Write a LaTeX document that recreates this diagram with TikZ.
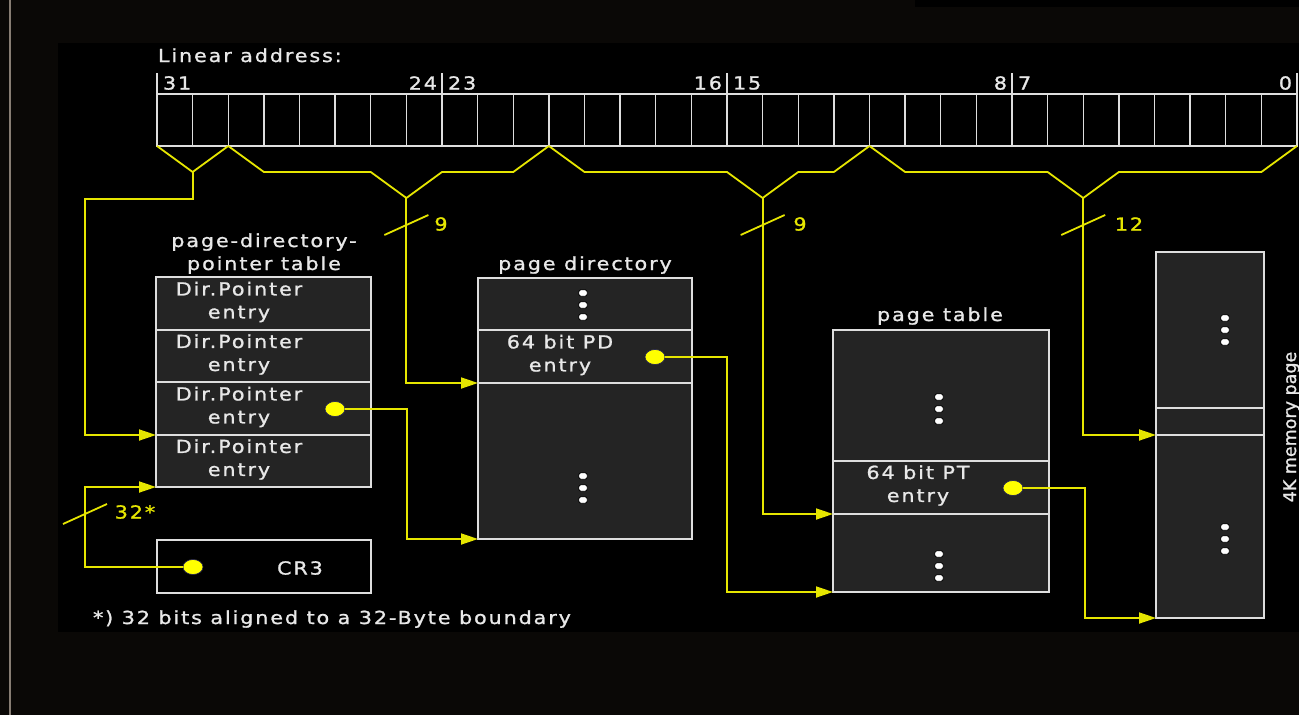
\documentclass[tikz,border=0pt]{standalone}
\usepackage{fontspec}
\setmainfont{DejaVu Sans}[FakeStretch=1.15,LetterSpace=10.5,FakeBold=1.2]
\newfontfamily\plainfont{DejaVu Sans}[FakeBold=1.2]
\usetikzlibrary{arrows.meta,shapes.geometric}

\definecolor{bgout}{RGB}{10,8,6}
\definecolor{ylw}{RGB}{230,230,0}
\definecolor{dotyl}{RGB}{255,255,0}
\definecolor{dotedge}{RGB}{30,30,90}
\definecolor{boxfill}{RGB}{36,36,36}
\definecolor{boxline}{RGB}{222,222,222}
\definecolor{txt}{RGB}{232,232,232}
\definecolor{sideline}{RGB}{135,125,115}

\def\cw{35.625}

\begin{document}
\begin{tikzpicture}[x=1pt,y=-1pt,
  every node/.style={inner sep=0pt,outer sep=0pt,font=\fontsize{18}{23}\selectfont,text=txt},
  rowbox/.style={rectangle,draw=boxline,line width=1.6pt,fill=boxfill},
  crbox/.style={rectangle,draw=boxline,line width=1.6pt,fill=black},
  bitcell/.style={rectangle,draw=boxline,line width=1.4pt,fill=black,minimum width=35.625pt,minimum height=52pt},
  yl/.style={draw=ylw,line width=1.8pt},
  arr/.style={yl,-{Triangle[length=17pt,width=11pt]}},
  ydot/.style={ellipse,fill=dotyl,draw=dotedge,line width=0.6pt,minimum width=20pt,minimum height=15pt},
  vd/.style={rectangle,rounded corners=1.8pt,fill=white,draw=black,line width=0.8pt,minimum width=8.5pt,minimum height=6.5pt},
  ynum/.style={text=ylw},
  tickline/.style={draw=boxline,line width=1.4pt}
]
% backgrounds
\fill[bgout] (0,0) rectangle (1299,715);
\useasboundingbox (0,0) rectangle (1299,715);
\draw[sideline,line width=2pt] (9.5,0) -- (9.5,715);
\fill[black] (915,0) rectangle (1299,7);
\fill[black] (58,43) rectangle (1299,632);

% linear address
\node[anchor=base west] (lintitle) at (158,62) {Linear address:};
\foreach \i in {0,...,31} {
  \node[bitcell] (b\i) at ({157+(31-\i)*\cw+\cw/2},120) {};
}
\foreach \b in {31,23,15,7} {
  \draw[tickline] (b\b.north west) -- ++(0,-21);
}
\draw[tickline] (b0.north east) -- ++(0,-21);
\node[anchor=west] (l31) at (163,83) {31};
\node[anchor=east] (l24) at (437,83) {24};
\node[anchor=west] (l23) at (448,83) {23};
\node[anchor=east] (l16) at (722,83) {16};
\node[anchor=west] (l15) at (733,83) {15};
\node[anchor=east] (l8) at (1007,83) {8};
\node[anchor=west] (l7) at (1018,83) {7};
\node[anchor=east] (l0) at (1292,83) {0};

% page-directory-pointer table
\node[anchor=base] (pdpttitle1) at (264,247) {page-directory-};
\node[anchor=base] (pdpttitle2) at (264,270) {pointer table};
\node[rowbox,minimum width=215pt,minimum height=53pt] (pdpt1) at (263.5,303.5) {};
\node[rowbox,minimum width=215pt,minimum height=52pt] (pdpt2) at (263.5,356) {};
\node[rowbox,minimum width=215pt,minimum height=53pt] (pdpt3) at (263.5,408.5) {};
\node[rowbox,minimum width=215pt,minimum height=52pt] (pdpt4) at (263.5,461) {};
\node[align=center] (pdptt1) at (239,302) {Dir.Pointer\\entry};
\node[align=center] (pdptt2) at (239,354.5) {Dir.Pointer\\entry};
\node[align=center] (pdptt3) at (239,407) {Dir.Pointer\\entry};
\node[align=center] (pdptt4) at (239,459.5) {Dir.Pointer\\entry};

% CR3
\node[crbox,minimum width=214pt,minimum height=53pt] (cr3) at (264,566.5) {};
\node (cr3t) at (300,568) {CR3};

% page directory
\node[anchor=base] (pdtitle) at (585,270) {page directory};
\node[rowbox,minimum width=214pt,minimum height=52pt] (pd1) at (585,304) {};
\node[rowbox,minimum width=214pt,minimum height=53pt] (pd2) at (585,356.5) {};
\node[rowbox,minimum width=214pt,minimum height=156pt] (pd3) at (585,461) {};
\node[align=center] (pdt) at (560,355) {64 bit PD\\entry};

% page table
\node[anchor=base] (pttitle) at (940,321) {page table};
\node[rowbox,minimum width=216pt,minimum height=131pt] (pt1) at (941,395.5) {};
\node[rowbox,minimum width=216pt,minimum height=53pt] (pt2) at (941,487.5) {};
\node[rowbox,minimum width=216pt,minimum height=78pt] (pt3) at (941,553) {};
\node[align=center] (ptt) at (918,485.5) {64 bit PT\\entry};

% memory page
\node[rowbox,minimum width=108pt,minimum height=156pt] (mem1) at (1210,330) {};
\node[rowbox,minimum width=108pt,minimum height=27pt] (mem2) at (1210,421.5) {};
\node[rowbox,minimum width=108pt,minimum height=183pt] (mem3) at (1210,526.5) {};
\node[rotate=90,anchor=base,font=\plainfont\fontsize{17.5}{20}\selectfont] (memtitle) at (1296,427) {4K memory page};

% vertical ellipses
\foreach \n/\x/\y in {pdA/583/293,pdB/583/476,ptA/939/397,ptB/939/554,memA/1225/318,memB/1225/527} {
  \foreach \k in {0,1,2} {
    \node[vd] (\n\k) at ({\x},{\y+12*\k}) {};
  }
}

% dots
\node[ydot] (d1) at (335,409) {};
\node[ydot] (d2) at (655,357) {};
\node[ydot] (d3) at (1013,488) {};
\node[ydot] (c3dot) at (193,567) {};

% braces under the linear address
\coordinate (a1) at ({157+\cw},172);
\coordinate (a2) at ({157+7*\cw},198);
\coordinate (a3) at ({157+17*\cw},198);
\coordinate (a4) at ({157+26*\cw},198);
\coordinate (l1) at (85,199);
\draw[yl] (b31.south west) -- (a1) -- (b30.south east);
\draw[yl] (b29.south west) -- ++(\cw,26) -- ++(3*\cw,0) -- (a2) -- ++(\cw,-26) -- ++(2*\cw,0) -- (b21.south east);
\draw[yl] (b20.south west) -- ++(\cw,26) -- ++(4*\cw,0) -- (a3) -- ++(\cw,-26) -- ++(\cw,0) -- (b12.south east);
\draw[yl] (b11.south west) -- ++(\cw,26) -- ++(4*\cw,0) -- (a4) -- ++(\cw,-26) -- ++(4*\cw,0) -- (b0.south east);

% index arrows
\draw[arr] (a1) |- (l1) |- (pdpt4.north west);
\draw[arr] (a2) |- (pd3.north west);
\draw[arr] (a3) |- (pt3.north west);
\draw[arr] (a4) |- (mem3.north west);

% pointer arrows
\coordinate (k1) at (407,539);
\coordinate (k2) at (727,592);
\coordinate (k3) at (1085,618);
\coordinate (k4) at (85,487);
\draw[arr] (d1) -| (k1) -- (pd3.south west);
\draw[arr] (d2) -| (k2) -- (pt3.south west);
\draw[arr] (d3) -| (k3) -- (mem3.south west);
\draw[arr] (c3dot) -| (k4) -- (pdpt4.south west);

% width marks
\draw[yl] (a2) ++(-22,37) -- ++(44,-20);
\draw[yl] (a3) ++(-22,37) -- ++(44,-20);
\draw[yl] (a4) ++(-22,37) -- ++(44,-20);
\draw[yl] (63,524) -- (107,504);
\node[ynum] (n9a) at (441,224) {9};
\node[ynum] (n9b) at (800,224) {9};
\node[ynum] (n12) at (1129,224) {12};
\node[ynum] (n32) at (135,512) {32*};

% footnote
\node[anchor=base west] (foot) at (93,624) {*) 32 bits aligned to a 32-Byte boundary};
\end{tikzpicture}
\end{document}
